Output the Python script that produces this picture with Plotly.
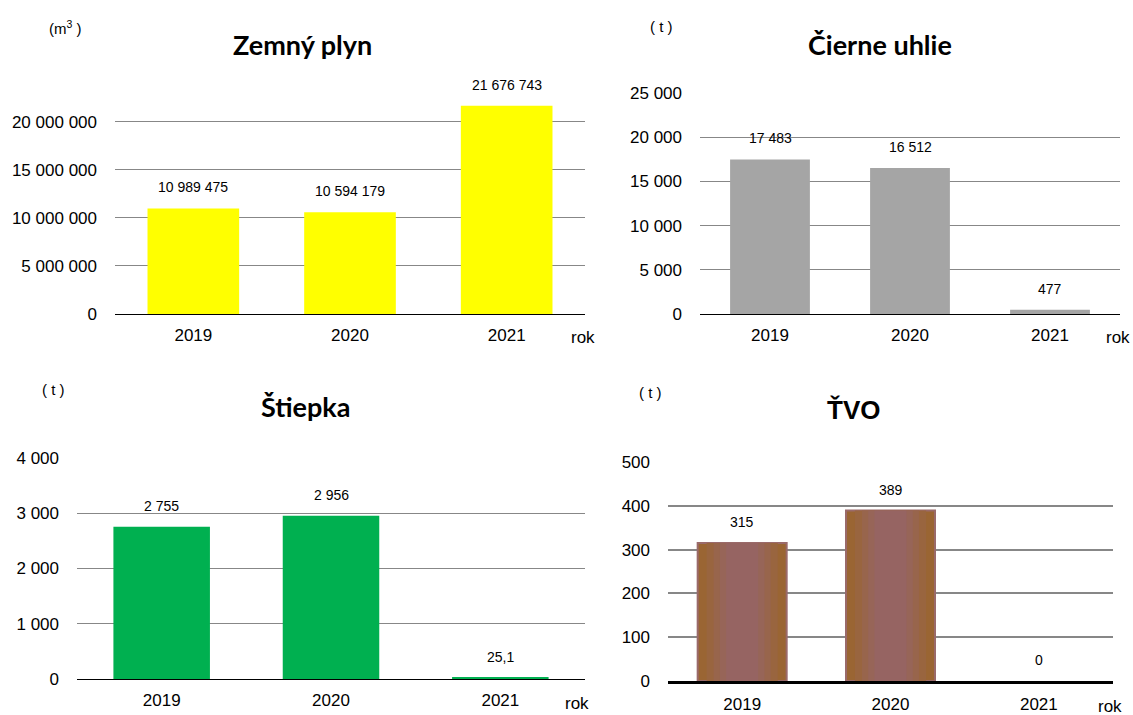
"""Recreates the four-panel fuel consumption bar chart (2019-2021)"""
import plotly.graph_objects as go

W, H = 1133, 715

# data
years = ['2019', '2020', '2021']
zemny_plyn = [10989475, 10594179, 21676743]
cierne_uhlie = [17483, 16512, 477]
stiepka = [2755, 2956, 25.1]
tvo = [315, 389, 0]

zemny_ticks = [0, 5000000, 10000000, 15000000, 20000000]
cierne_ticks = [0, 5000, 10000, 15000, 20000, 25000]
stiepka_ticks = [0, 1000, 2000, 3000, 4000]
tvo_ticks = [0, 100, 200, 300, 400, 500]

titles = ['Zemný plyn', 'Čierne uhlie', 'Štiepka', 'ŤVO']
units = ['(m<sup>3</sup> )', '( t )', '( t )', '( t )']
x_label = 'rok'

TICK_FONT = dict(family='Liberation Sans, Arial', size=17, color='#000000')
LABEL_FONT = dict(family='Liberation Sans, Arial', size=14, color='#000000')
GRID = '#878787'

# brown -> mauve shading of the TVO bars (outer to inner layer)
TVO_SHADES = [(1.0, '#9A6533'), (0.8, '#99653F'), (0.64, '#98654C'),
              (0.5, '#976558'), (0.36, '#966462')]


def px_x(x):
    return x / W


def px_y(y):
    return 1 - y / H


def fmt(v):
    """Slovak style number: space for thousands, comma for decimals"""
    if float(v).is_integer():
        return f'{int(v):,}'.replace(',', ' ')
    return f'{v}'.replace('.', ',')


def add_panel(fig, n, values, ticks, y_max, color, box, bar_width,
              title, title_pos, title_font, unit, unit_pos, rok_pos,
              shades=None, axis_width=1, grid_width=1):
    """Adds one bar panel on its own pair of axes

    Args:
      box: (left, top, right, bottom) of the plot area in pixels
      shades: optional list of (relative width, colour) layers for a
              shaded bar fill
    """
    xa = 'x' if n == 1 else f'x{n}'
    ya = 'y' if n == 1 else f'y{n}'
    left, top, right, bottom = box

    if shades:
        # outline only on non-empty bars
        outline = [2 if v else 0 for v in values]
        for i, (rel, shade) in enumerate(shades):
            line = dict(color='#9A6A6A', width=outline) if i == 0 else dict(width=0)
            fig.add_trace(go.Bar(x=years, y=values, width=bar_width * rel,
                                 marker=dict(color=shade, line=line),
                                 xaxis=xa, yaxis=ya, hoverinfo='x+y'))
    else:
        fig.add_trace(go.Bar(x=years, y=values, width=bar_width,
                             marker=dict(color=color, line=dict(width=0)),
                             xaxis=xa, yaxis=ya, hoverinfo='x+y'))

    fig.update_layout(**{
        ('xaxis' if n == 1 else f'xaxis{n}'): dict(
            type='category', categoryarray=years, range=[-0.5, 2.5],
            domain=[px_x(left), px_x(right)], anchor=ya,
            showline=True, linecolor='#000000', linewidth=axis_width,
            showgrid=False, ticks='', tickfont=TICK_FONT, layer='above traces',
            ticklabelstandoff=6, automargin=False, fixedrange=True),
        ('yaxis' if n == 1 else f'yaxis{n}'): dict(
            domain=[px_y(bottom), px_y(top)], anchor=xa,
            range=[0, y_max], tickvals=ticks, tickformat=',d',
            showgrid=True, gridcolor=GRID, gridwidth=grid_width,
            zeroline=False, showline=False, ticks='', tickfont=TICK_FONT,
            ticklabelstandoff=17, automargin=False, fixedrange=True),
    })

    # value labels, placed on the category index of each year
    for i, v in enumerate(values):
        fig.add_annotation(x=i, y=v, xref=xa, yref=ya, text=fmt(v),
                           showarrow=False, yanchor='middle', yshift=21,
                           font=LABEL_FONT)

    fig.add_annotation(x=px_x(title_pos[0]), y=px_y(title_pos[1]),
                       xref='paper', yref='paper', text=f'<b>{title}</b>',
                       showarrow=False, xanchor='center', yanchor='middle',
                       font=title_font)
    fig.add_annotation(x=px_x(unit_pos[0]), y=px_y(unit_pos[1]),
                       xref='paper', yref='paper', text=unit,
                       showarrow=False, xanchor='center', yanchor='middle',
                       font=dict(family='Liberation Sans, Arial', size=15,
                                 color='#000000'))
    fig.add_annotation(x=px_x(rok_pos[0]), y=px_y(rok_pos[1]),
                       xref='paper', yref='paper', text=x_label,
                       showarrow=False, xanchor='center', yanchor='middle',
                       font=TICK_FONT)


def main():
    fig = go.Figure()
    calibri = dict(family='Lato, Carlito, Calibri', size=27, color='#000000')
    arial_b = dict(family='Liberation Sans, Arial', size=26, color='#000000')

    add_panel(fig, 1, zemny_plyn, zemny_ticks, 23000000, '#FFFF00',
              (115, 93, 585, 314), 0.585, titles[0], (302, 45), calibri,
              units[0], (65, 28), (583, 338))
    add_panel(fig, 2, cierne_uhlie, cierne_ticks, 25000, '#A5A5A5',
              (700, 93, 1120, 314), 0.57, titles[1], (880, 45), calibri,
              units[1], (661, 26), (1118, 338))
    add_panel(fig, 3, stiepka, stiepka_ticks, 4000, '#00B050',
              (77, 458, 585, 679), 0.57, titles[2], (305, 406), calibri,
              units[2], (53, 390), (577, 703))
    add_panel(fig, 4, tvo, tvo_ticks, 500, None,
              (668, 462, 1113, 681), 0.6, titles[3], (853, 410), arial_b,
              units[3], (651, 392), (1110, 706),
              shades=TVO_SHADES, axis_width=2.5, grid_width=2)

    fig.update_layout(width=W, height=H, margin=dict(l=0, r=0, t=0, b=0),
                      plot_bgcolor='#FFFFFF', paper_bgcolor='#FFFFFF',
                      showlegend=False, separators=', ', barmode='overlay')
    fig.write_html('out.html', config={'displayModeBar': False},
                   post_script="document.body.style.margin='0';")


if __name__ == '__main__':
    main()
